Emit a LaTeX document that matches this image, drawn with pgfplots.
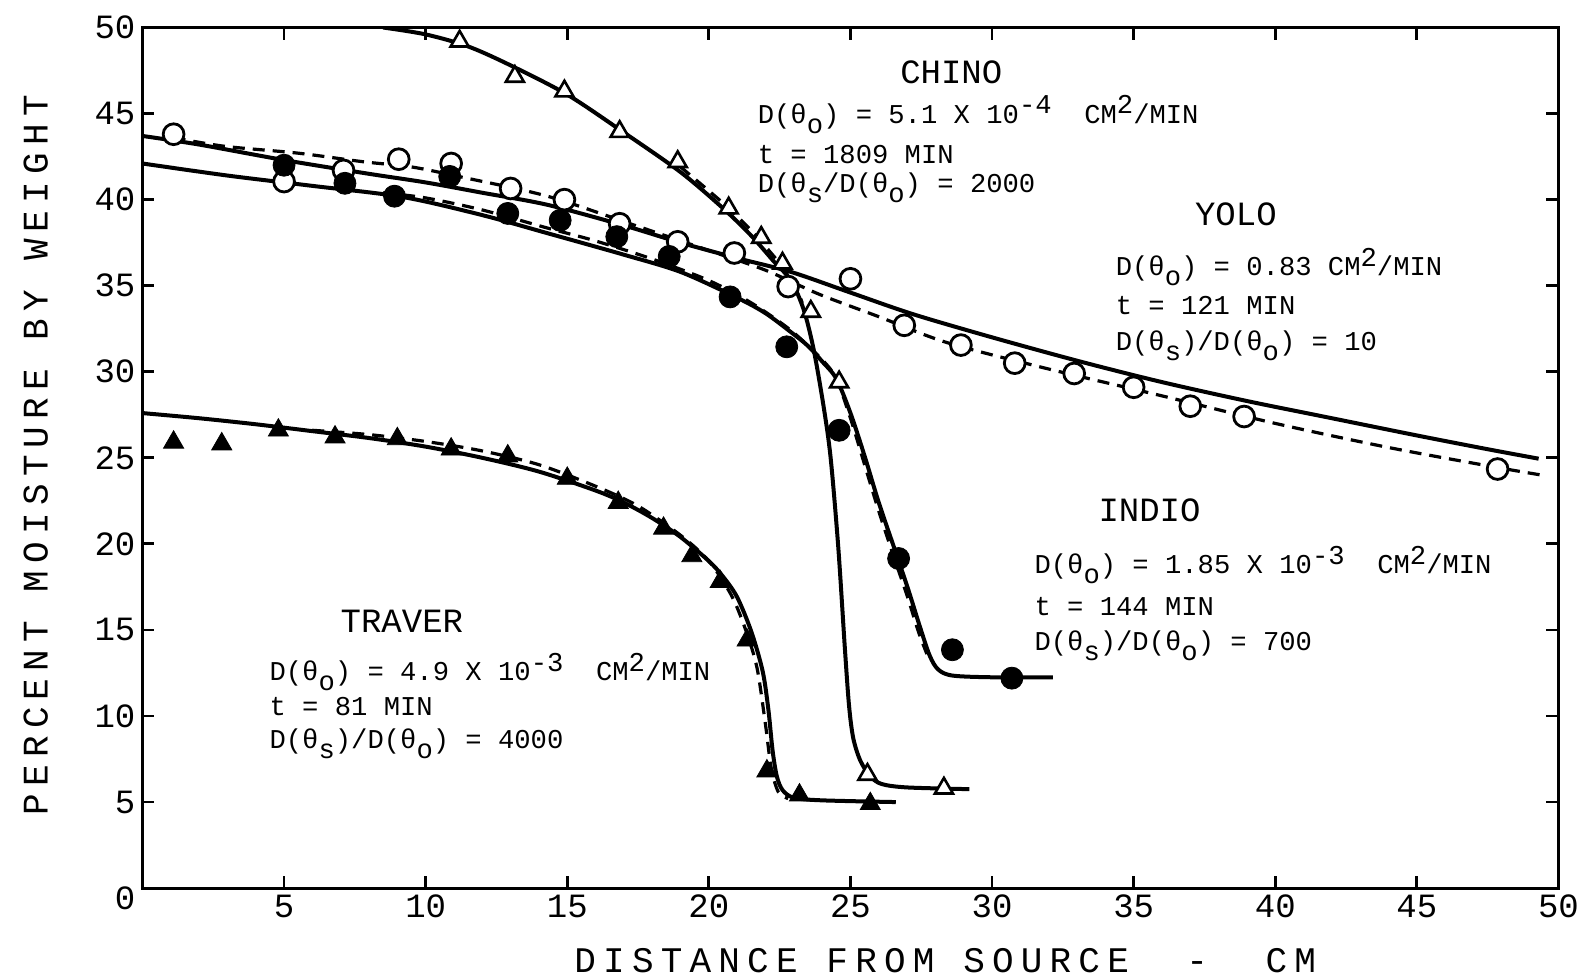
\documentclass[border=0pt]{standalone}
\usepackage{fontspec}
\setmainfont{Liberation Serif}
\newfontfamily\monofont{Liberation Mono}
\newfontfamily\spacedfont[LetterSpace=20]{Liberation Mono}
\usepackage{pgfplots}
\pgfplotsset{compat=1.18}

\newcommand{\sub}[1]{\raisebox{-0.7ex}{#1}}
\newcommand{\sups}[1]{\raisebox{0.65ex}{#1}}
\newcommand{\annfont}{\monofont\fontsize{13.6}{16}\selectfont}
\newcommand{\ttlfont}{\monofont\fontsize{17}{20}\selectfont}
\newcommand{\tickfont}{\monofont\fontsize{17}{20}\selectfont}
\newcommand{\labfont}{\spacedfont\fontsize{18}{20}\selectfont}

\pgfplotsset{
  solidc/.style={black, line width=2pt, smooth, no markers},
  dashc/.style={black, line width=1.6pt, smooth, no markers, dash pattern=on 6pt off 4pt},
}

\begin{document}
\begin{tikzpicture}
\begin{axis}[
  scale only axis, width=708pt, height=430.3pt,
  xmin=0, xmax=50, ymin=0, ymax=50,
  xtick={5,10,...,50}, ytick={5,10,...,50},
  extra y ticks={0},
  extra y tick style={yticklabel style={yshift=-5pt}},
  axis line style={line width=1.5pt},
  every tick/.style={line width=1.4pt, black},
  major tick length=6pt,
  tick align=inside,
  ticklabel style={font=\tickfont, text=black},
  /pgf/number format/assume math mode=true,
  clip=true,
  clip marker paths=true,
]
% ---------- TRAVER curves ----------
\addplot[solidc] coordinates {(0,27.6)(2,27.3)(4,26.95)(6,26.55)(8,26.15)(10,25.65)(12,25.0)(14,24.2)(16,23.1)(17,22.4)(18,21.5)(19,20.4)(20,19.0)(20.5,18.1)(21,16.9)(21.5,14.9)(21.9,12.6)(22.1,10.4)(22.25,8.0)(22.4,6.5)(22.6,5.7)(23,5.25)(24,5.1)(26.6,5.0)};
\addplot[dashc] coordinates {(6,26.6)(8,26.35)(10,25.95)(12,25.4)(14,24.6)(16,23.35)(17.5,22.2)(19,20.5)(20,19.0)(20.8,17.0)(21.3,15.0)(21.7,12.8)(22.0,9.5)(22.2,7.0)(22.45,5.6)(22.8,5.2)};
% ---------- CHINO curves ----------
\addplot[solidc] coordinates {(8.5,50.0)(10,49.6)(11.5,48.9)(13,47.8)(15,46.1)(17,43.9)(19,41.6)(20.5,39.5)(21.5,37.9)(22.3,36.4)(22.9,35.3)(23.35,33.6)(23.7,31.3)(24.05,28.0)(24.3,25.0)(24.57,19.8)(24.8,14.0)(24.95,10.6)(25.1,8.7)(25.35,7.4)(25.7,6.5)(26.1,6.05)(27,5.85)(29.2,5.75)};
\addplot[dashc] coordinates {(19,41.9)(20.5,39.8)(21.5,38.2)(22.3,36.7)(22.9,35.5)(23.3,34.0)};
% ---------- YOLO curves ----------
\addplot[solidc] coordinates {(0,43.7)(2,43.2)(5,42.3)(8,41.5)(10,41.0)(12,40.4)(14.3,39.7)(17,38.5)(19,37.5)(21,36.6)(22.9,35.8)(25,34.6)(27.2,33.35)(30,32.0)(33.1,30.6)(36,29.4)(39,28.3)(42,27.3)(45,26.3)(47.5,25.5)(49.3,24.95)};
\addplot[dashc] coordinates {(1.1,43.6)(2.9,43.1)(5.5,42.7)(7.8,42.2)(9.5,41.9)(11.3,41.3)(14.3,40.2)(17.4,38.5)(19.9,37.1)(22,35.9)(23.9,34.5)(26,33.2)(28.4,31.7)(31.9,30.2)(36,28.6)(40,27.0)(44,25.6)(47.8,24.45)(49.4,24.0)};
% ---------- INDIO curves ----------
\addplot[solidc] coordinates {(0,42.1)(3,41.4)(6,40.8)(9.2,40.15)(12,39.1)(14.3,38.05)(17,36.8)(19,35.8)(21,34.3)(22,33.4)(22.9,32.3)(23.5,31.5)(24.0,30.6)(24.5,29.6)(25.0,27.6)(25.5,25.1)(26.0,22.4)(26.6,19.5)(27.05,17.3)(27.45,15.2)(27.8,13.5)(28.1,12.7)(28.6,12.35)(30,12.25)(32.15,12.25)};
\addplot[dashc] coordinates {(8.5,40.4)(10,40.1)(12,39.4)(14.3,38.35)(16,37.6)(18,36.55)(20,35.3)(21.5,34.0)(22.9,32.4)(24.0,30.7)(24.5,29.6)(25.0,27.3)(25.5,24.6)(26.0,21.9)(26.5,19.4)(27.0,17.0)(27.4,14.9)(27.7,13.6)};
% ---------- markers ----------
% YOLO (open circles)
\addplot[only marks, mark=*, mark size=5.2pt, mark options={fill=white, draw=black, line width=1.4pt}] coordinates {(1.1,43.8)(5.0,41.05)(7.1,41.7)(9.05,42.35)(10.9,42.1)(13.0,40.65)(14.9,40.0)(16.85,38.6)(18.9,37.55)(20.9,36.9)(22.8,34.95)(25.0,35.4)(26.9,32.7)(28.9,31.55)(30.8,30.5)(32.9,29.9)(35.0,29.1)(37.0,28.0)(38.9,27.4)(47.85,24.35)};
% INDIO (filled circles)
\addplot[only marks, mark=*, mark size=5.5pt, mark options={fill=black, draw=black}] coordinates {(5.0,42.0)(7.15,40.95)(8.9,40.2)(10.85,41.35)(12.9,39.2)(14.75,38.8)(16.75,37.85)(18.6,36.7)(20.75,34.35)(22.75,31.45)(24.6,26.6)(26.7,19.15)(28.6,13.85)(30.7,12.2)};
% CHINO (open triangles)
\addplot[only marks, mark=triangle*, mark size=5.2pt, mark options={fill=white, draw=black, line width=1.3pt}] coordinates {(9.5,50.1)(11.2,49.2)(13.15,47.15)(14.9,46.3)(16.85,43.95)(18.9,42.2)(20.7,39.5)(21.85,37.8)(22.6,36.3)(23.6,33.5)(24.6,29.4)(25.6,6.6)(28.3,5.8)};
% TRAVER (filled triangles)
\addplot[only marks, mark=triangle*, mark size=5.8pt, mark options={fill=black, draw=black}] coordinates {(1.1,25.9)(2.8,25.8)(4.8,26.6)(6.8,26.2)(9.0,26.1)(10.9,25.5)(12.9,25.1)(15.0,23.8)(16.8,22.4)(18.4,20.9)(19.4,19.3)(20.4,17.8)(21.35,14.4)(22.05,6.8)(23.2,5.4)(25.7,4.9)};

% ---------- annotations ----------
\node[anchor=base, font=\ttlfont] at (axis cs:28.56,46.75) {CHINO};
\node[anchor=base west, font=\annfont] at (axis cs:21.48,44.44) {D(θ\sub{o}) = 5.1 X 10\sups{-4}\ \ CM\sups{2}/MIN};
\node[anchor=base west, font=\annfont] at (axis cs:21.48,42.1) {t = 1809 MIN};
\node[anchor=base west, font=\annfont] at (axis cs:21.48,40.43) {D(θ\sub{s}/D(θ\sub{o}) = 2000};

\node[anchor=base, font=\ttlfont] at (axis cs:38.61,38.48) {YOLO};
\node[anchor=base west, font=\annfont] at (axis cs:34.12,35.58) {D(θ\sub{o}) = 0.83 CM\sups{2}/MIN};
\node[anchor=base west, font=\annfont] at (axis cs:34.12,33.33) {t = 121 MIN};
\node[anchor=base west, font=\annfont] at (axis cs:34.12,31.26) {D(θ\sub{s})/D(θ\sub{o}) = 10};

\node[anchor=base, font=\ttlfont] at (axis cs:35.56,21.28) {INDIO};
\node[anchor=base west, font=\annfont] at (axis cs:31.25,18.26) {D(θ\sub{o}) = 1.85 X 10\sups{-3}\ \ CM\sups{2}/MIN};
\node[anchor=base west, font=\annfont] at (axis cs:31.25,15.84) {t = 144 MIN};
\node[anchor=base west, font=\annfont] at (axis cs:31.25,13.83) {D(θ\sub{s})/D(θ\sub{o}) = 700};

\node[anchor=base, font=\ttlfont] at (axis cs:9.16,14.83) {TRAVER};
\node[anchor=base west, font=\annfont] at (axis cs:4.24,12.06) {D(θ\sub{o}) = 4.9 X 10\sups{-3}\ \ CM\sups{2}/MIN};
\node[anchor=base west, font=\annfont] at (axis cs:4.24,10.05) {t = 81 MIN};
\node[anchor=base west, font=\annfont] at (axis cs:4.24,8.10) {D(θ\sub{s})/D(θ\sub{o}) = 4000};

\coordinate (BL) at (rel axis cs:-0.1006,-0.1045);
\coordinate (TR) at (rel axis cs:1.0258,1.032);
\coordinate (YL) at (rel axis cs:-0.0754,0.503);
\coordinate (XL) at (rel axis cs:0.567,-0.0847);
\end{axis}
\path (BL) rectangle (TR);
\node[rotate=90, font=\labfont] at (YL) {PERCENT MOISTURE BY WEIGHT};
\node[font=\labfont] at (XL) {DISTANCE FROM SOURCE\ \ -\ \ CM};
\end{tikzpicture}
\end{document}
